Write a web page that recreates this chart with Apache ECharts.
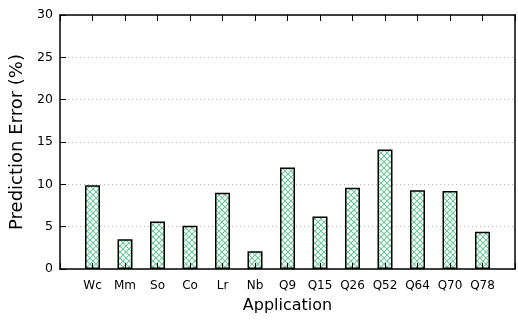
<!DOCTYPE html>
<html><head><meta charset="utf-8">
<script src="https://cdn.jsdelivr.net/npm/echarts@6/dist/echarts.min.js"></script>
<style>html,body{margin:0;padding:0;background:#fff}#c{width:518px;height:320px}</style>
</head><body><div id="c"></div>
<script>
const categories = ['Wc','Mm','So','Co','Lr','Nb','Q9','Q15','Q26','Q52','Q64','Q70','Q78'];
const errors = [9.9, 3.5, 5.6, 5.1, 9.0, 2.1, 12.0, 6.2, 9.6, 14.1, 9.3, 9.2, 4.4];
const yTicks = [0, 5, 10, 15, 20, 25, 30];

const font = 'DejaVu Sans, Verdana, sans-serif';
const pc = document.createElement('canvas');
pc.width = 6; pc.height = 6;
const g = pc.getContext('2d');
g.fillStyle = '#ffffff'; g.fillRect(0,0,6,6);
g.strokeStyle = '#6cc89a'; g.lineWidth = 1.1;
g.beginPath(); g.moveTo(0,0); g.lineTo(6,6); g.moveTo(0,6); g.lineTo(6,0); g.stroke();

const axisCats = [''].concat(categories, ['']);
const seriesData = [null].concat(errors, [null]);

const chart = echarts.init(document.getElementById('c'));
chart.setOption({
  animation: false,
  grid: {left: 60, right: 1, top: 15, bottom: 51},
  xAxis: [{
    type: 'category', data: axisCats, boundaryGap: false,
    axisLine: {onZero: false, lineStyle: {color: '#000', width: 1.5}},
    axisTick: {inside: true, interval: 0, length: 6, lineStyle: {color: '#000'}},
    axisLabel: {interval: 0, color: '#000', fontFamily: font, fontSize: 12, margin: 11},
    name: 'Application', nameLocation: 'middle', nameGap: 29,
    nameTextStyle: {color: '#000', fontFamily: font, fontSize: 16},
    z: 10
  },{
    type: 'category', data: axisCats, boundaryGap: false, position: 'top',
    axisLine: {show: true, onZero: false, lineStyle: {color: '#000', width: 1.5}},
    axisTick: {show: true, inside: true, interval: 0, length: 6, lineStyle: {color: '#000'}},
    axisLabel: {show: false}
  }],
  yAxis: [{
    type: 'value', min: yTicks[0], max: yTicks[yTicks.length-1], interval: 5,
    axisLine: {show: true, onZero: false, lineStyle: {color: '#000', width: 1.5}},
    axisTick: {show: true, inside: true, length: 6, lineStyle: {color: '#000'}},
    axisLabel: {color: '#000', fontFamily: font, fontSize: 12.5, margin: 7},
    splitLine: {show: true, lineStyle: {type: [1, 3], color: '#b8b8b8'}},
    name: 'Prediction Error (%)', nameLocation: 'middle', nameGap: 27,
    nameTextStyle: {color: '#000', fontFamily: font, fontSize: 18}
  },{
    type: 'value', min: 0, max: 30, interval: 5, position: 'right',
    axisLine: {show: true, onZero: false, lineStyle: {color: '#000', width: 1.5}},
    axisTick: {show: false}, axisLabel: {show: false}, splitLine: {show: false}
  }],
  series: [{
    type: 'bar', data: seriesData, barWidth: 15, z: 1,
    itemStyle: {color: {image: pc, repeat: 'repeat'}, borderColor: '#000', borderWidth: 1.5}
  }]
});
</script></body></html>
